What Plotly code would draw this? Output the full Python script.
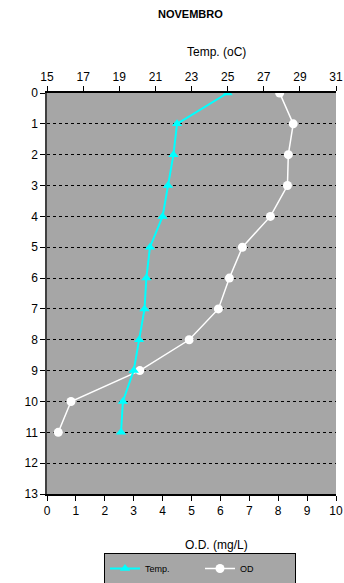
import plotly.graph_objects as go

# depth (m) and profiles for November
depth = [0, 1, 2, 3, 4, 5, 6, 7, 8, 9, 10, 11]
temp = [25.0, 22.2, 22.0, 21.7, 21.4, 20.7, 20.5, 20.4, 20.1, 19.8, 19.2, 19.1]
od = [8.05, 8.52, 8.35, 8.32, 7.73, 6.76, 6.31, 5.93, 4.92, 3.21, 0.83, 0.39]

temp_ticks = [15, 17, 19, 21, 23, 25, 27, 29, 31]
od_ticks = [0, 1, 2, 3, 4, 5, 6, 7, 8, 9, 10]
depth_ticks = list(range(0, 14))

W, H = 344, 583
ML, MR, MT, MB = 47, 8, 93, 89
PW, PH = W - ML - MR, H - MT - MB
font = dict(family="Liberation Sans, Arial, sans-serif", size=11, color="black")

fig = go.Figure()
fig.add_trace(go.Scatter(
    x=temp, y=depth, name="Temp.", xaxis="x2", yaxis="y",
    mode="lines+markers",
    line=dict(color="#00FFFF", width=2),
    marker=dict(symbol="triangle-up", size=9, color="#00FFFF"),
))
fig.add_trace(go.Scatter(
    x=od, y=depth, name="OD", xaxis="x", yaxis="y",
    mode="lines+markers",
    line=dict(color="white", width=1.5),
    marker=dict(symbol="circle", size=9, color="white"),
))

fig.update_layout(
    width=W, height=H,
    margin=dict(l=ML, r=MR, t=MT, b=MB, autoexpand=False),
    paper_bgcolor="white",
    plot_bgcolor="#A6A6A6",
    font=font,
    showlegend=True,
    legend=dict(
        orientation="h", x=(200 - ML) / PW, xanchor="center",
        y=-(553 - (H - MB)) / PH, yanchor="top",
        bgcolor="#A6A6A6", bordercolor="black", borderwidth=1,
        font=dict(size=9, color="black"),
        entrywidthmode="pixels", entrywidth=50,
    ),
    xaxis=dict(
        range=[0, 10], tickvals=od_ticks, side="bottom",
        showgrid=False, zeroline=False,
        showline=True, linecolor="black", linewidth=1.5,
        ticks="outside", ticklen=5, tickcolor="black",
        tickfont=dict(size=12),
    ),
    xaxis2=dict(
        range=[15, 31], tickvals=temp_ticks, side="top", overlaying="x",
        showgrid=False, zeroline=False,
        showline=True, linecolor="black", linewidth=1.5,
        ticks="outside", ticklen=5, tickcolor="black",
        tickfont=dict(size=12),
    ),
    yaxis=dict(
        range=[13, 0], tickvals=depth_ticks,
        showgrid=True, gridcolor="black", griddash="dot", gridwidth=1,
        zeroline=False,
        showline=True, linecolor="#404040", linewidth=1.5,
        ticks="outside", ticklen=5, tickcolor="black",
        tickfont=dict(size=12),
    ),
    annotations=[
        dict(text="<b>NOVEMBRO</b>", xref="paper", yref="paper",
             x=(190 - ML) / PW, y=1 + (MT - 14) / PH,
             xanchor="center", yanchor="middle",
             showarrow=False, font=dict(size=11)),
        dict(text="Temp. (oC)", xref="paper", yref="paper",
             x=(216 - ML) / PW, y=1 + (MT - 52) / PH,
             xanchor="center", yanchor="middle",
             showarrow=False, font=dict(size=12)),
        dict(text="O.D. (mg/L)", xref="paper", yref="paper",
             x=(216 - ML) / PW, y=-(545 - (H - MB)) / PH,
             xanchor="center", yanchor="middle",
             showarrow=False, font=dict(size=12)),
    ],
)

# page body has a default 8px margin; remove it so the chart sits at 0,0
fig.write_html("out.html", config={"displayModeBar": False},
               post_script="document.body.style.margin='0';")
